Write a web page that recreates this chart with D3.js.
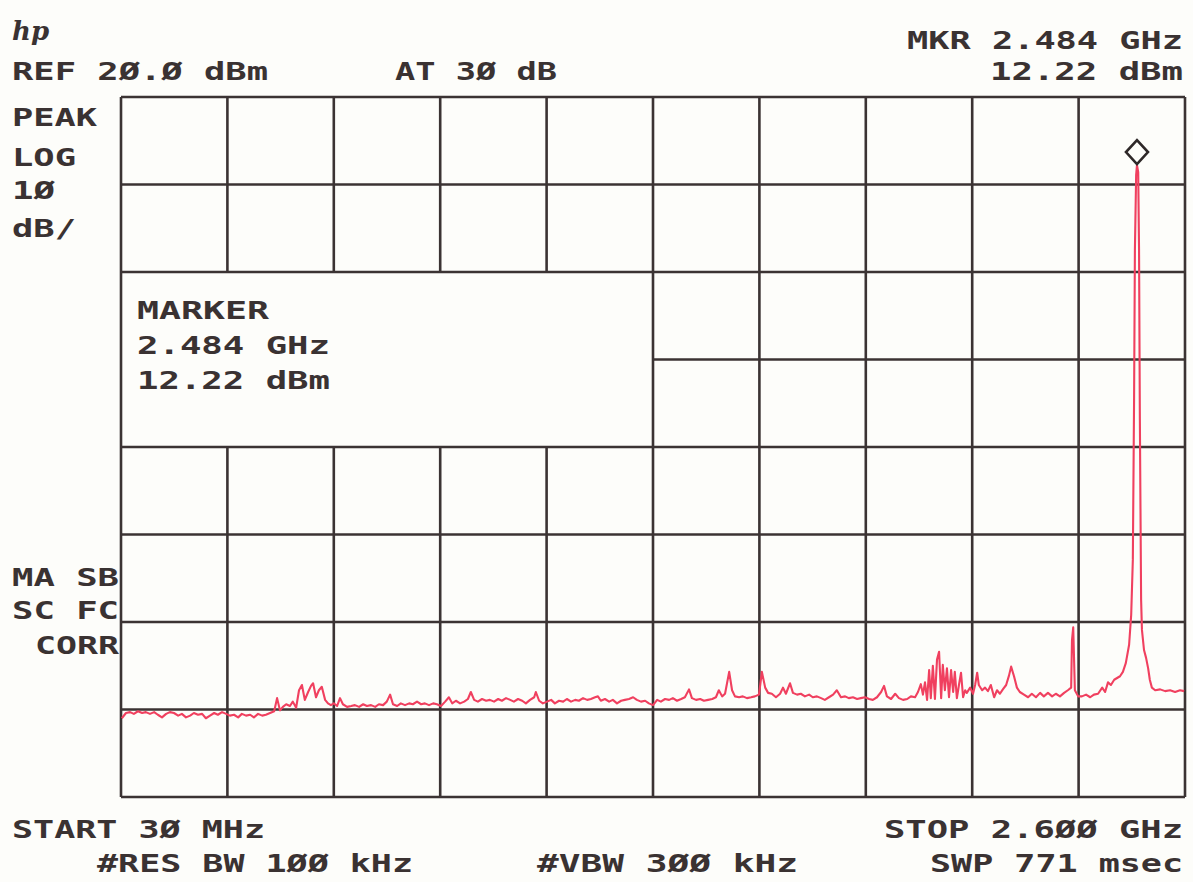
<!DOCTYPE html>
<html>
<head>
<meta charset="utf-8">
<script src="https://cdn.jsdelivr.net/npm/d3@7/dist/d3.min.js"></script>
<style>
  html, body { margin: 0; padding: 0; background: #fdfdfa; }
  svg { display: block; }
  .lbl { font-family: "DejaVu Sans Mono", monospace; font-weight: bold; font-size: 24px; fill: #3a3232; }
</style>
</head>
<body>
<svg id="chart" width="1193" height="882"></svg>
<script>
// ---- Data ----
const startMHz = 30, stopMHz = 2600;
const refDbm = 20, dbPerDiv = 10, nDivY = 8, nDivX = 10;
const markerMHz = 2484, markerDbm = 12.22;

const freqMHz = [32,42,52,61,71,81,90,100,110,119,129,139,148,158,168,177,187,197,206,216,226,235,245,255,264,274,284,293,303,313,322,332,342,351,361,371,380,390,400,407,414,421,429,438,445,453,460,467,474,482,489,494,501,508,515,523,530,537,544,552,559,566,576,586,595,605,615,624,634,644,653,663,672,680,687,697,706,716,726,735,745,755,764,774,784,793,803,813,822,830,839,849,859,868,875,883,892,902,912,921,931,941,950,960,970,979,989,999,1008,1018,1028,1032,1040,1049,1059,1069,1078,1088,1098,1107,1117,1127,1136,1146,1156,1165,1175,1182,1189,1199,1209,1218,1228,1238,1247,1257,1267,1276,1286,1296,1305,1315,1325,1334,1344,1354,1363,1373,1383,1392,1402,1409,1419,1429,1438,1448,1458,1467,1474,1482,1489,1499,1506,1513,1523,1532,1542,1552,1561,1571,1578,1586,1593,1602,1612,1622,1629,1636,1646,1653,1663,1672,1682,1692,1701,1711,1721,1730,1740,1750,1759,1769,1779,1788,1798,1808,1817,1827,1837,1846,1856,1866,1873,1880,1890,1900,1909,1919,1929,1938,1948,1955,1962,1967,1972,1977,1982,1986,1991,1996,2001,2006,2011,2015,2020,2025,2030,2035,2040,2044,2049,2054,2059,2064,2069,2073,2081,2088,2093,2098,2102,2110,2117,2124,2131,2139,2146,2153,2160,2168,2175,2180,2187,2194,2201,2211,2221,2230,2240,2250,2259,2269,2279,2288,2298,2308,2317,2325,2327,2330,2334,2342,2351,2361,2371,2380,2390,2400,2407,2414,2421,2429,2436,2443,2450,2457,2465,2470,2474,2477,2479,2482,2484,2487,2489,2491,2494,2496,2501,2506,2511,2515,2520,2528,2540,2552,2564,2576,2588,2598];

const levelDbm = [-51.0,-50.4,-50.3,-50.5,-50.2,-50.4,-50.3,-50.5,-50.3,-50.6,-50.9,-50.5,-50.3,-50.4,-50.7,-50.5,-50.9,-50.7,-50.4,-50.6,-50.5,-51.0,-50.7,-50.4,-50.6,-50.3,-50.5,-50.7,-50.6,-50.9,-50.5,-50.7,-50.6,-50.9,-50.5,-50.7,-50.6,-50.4,-50.2,-48.7,-50.1,-49.7,-49.4,-49.6,-49.1,-49.8,-47.8,-47.2,-48.9,-48.0,-47.3,-47.0,-48.6,-47.8,-47.4,-48.9,-49.3,-49.5,-49.3,-49.6,-48.7,-49.4,-49.7,-49.6,-49.5,-49.7,-49.4,-49.6,-49.5,-49.7,-49.4,-49.5,-49.1,-48.3,-49.4,-49.6,-49.3,-49.5,-49.3,-49.4,-49.1,-49.4,-49.3,-49.5,-49.3,-49.4,-49.6,-49.1,-48.6,-49.3,-49.0,-49.3,-49.1,-48.8,-48.0,-48.9,-49.1,-48.8,-49.0,-48.9,-49.1,-48.8,-49.0,-48.7,-48.9,-49.1,-48.8,-49.0,-49.3,-48.9,-48.6,-48.0,-49.0,-49.3,-49.1,-48.9,-49.3,-49.0,-49.1,-48.8,-49.1,-48.9,-49.0,-48.7,-48.9,-48.8,-48.6,-48.5,-49.0,-48.8,-49.1,-48.9,-49.3,-49.0,-48.9,-48.8,-48.6,-48.9,-49.1,-49.0,-49.3,-49.5,-48.9,-49.1,-48.8,-48.9,-48.7,-49.0,-48.8,-48.6,-47.7,-48.7,-48.9,-48.8,-49.0,-48.9,-48.8,-48.6,-47.8,-48.5,-48.2,-45.7,-47.8,-48.5,-48.6,-48.5,-48.7,-48.6,-48.5,-48.3,-45.7,-47.5,-48.1,-48.2,-48.6,-48.2,-47.5,-48.2,-47.0,-48.1,-48.3,-48.2,-48.5,-48.3,-48.6,-48.5,-48.7,-48.9,-48.6,-48.3,-47.8,-48.6,-48.5,-48.7,-48.6,-48.8,-48.7,-48.6,-48.8,-48.9,-48.6,-48.0,-47.3,-48.5,-48.8,-48.2,-48.7,-48.9,-48.8,-48.5,-48.6,-48.0,-47.1,-48.3,-46.9,-48.9,-45.5,-48.7,-45.0,-48.8,-44.3,-43.4,-48.7,-44.9,-47.8,-45.3,-48.6,-45.5,-48.0,-45.7,-48.7,-47.2,-45.8,-48.6,-47.8,-48.1,-47.5,-48.2,-47.2,-45.8,-47.2,-47.8,-47.5,-47.9,-47.2,-48.6,-47.8,-48.2,-47.7,-47.2,-46.1,-45.1,-46.2,-47.5,-48.0,-48.3,-48.6,-48.2,-48.6,-48.1,-48.5,-48.1,-48.5,-48.2,-48.5,-48.1,-47.8,-47.5,-42.1,-40.6,-47.8,-48.5,-48.5,-48.3,-48.6,-48.3,-48.2,-47.5,-48.0,-46.9,-47.2,-46.6,-46.4,-46.2,-45.7,-44.7,-42.6,-39.2,-32.9,-14.6,2.5,11.1,12.22,11.4,2.5,-16.9,-37.5,-40.9,-43.2,-44.1,-45.3,-46.6,-47.5,-47.8,-47.7,-47.9,-47.8,-48.0,-47.8,-47.9];

const headerLabels = ["REF 2Ø.Ø dBm", "AT 3Ø dB", "MKR 2.484 GHz", "12.22 dBm"];
const sideLabels = ["PEAK", "LOG", "1Ø", "dB/", "MA SB", "SC FC", "CORR"];
const markerLabels = ["MARKER", "2.484 GHz", "12.22 dBm"];
const footerLabels = ["START 3Ø MHz", "#RES BW 1ØØ kHz", "#VBW 3ØØ kHz", "STOP 2.6ØØ GHz", "SWP 771 msec"];

// ---- Layout ----
const svg = d3.select("#chart");
const L = 121, R = 1185, T = 97, B = 797;
const bottomDbm = refDbm - dbPerDiv * nDivY;

const x = d3.scaleLinear().domain([startMHz, stopMHz]).range([L, R]);
const y = d3.scaleLinear().domain([bottomDbm, refDbm]).range([B, T]);

const gridColor = "#3b3333";
const g = svg.append("g");

const xTicks = d3.range(0, nDivX + 1).map(i => startMHz + i * (stopMHz - startMHz) / nDivX);
const yTicks = d3.range(0, nDivY + 1).map(i => bottomDbm + i * dbPerDiv);

// marker annotation box (blank area inside the graticule)
const boxRight = xTicks[5], boxTop = 0, boxBottom = -20, boxMid = -10;

// vertical grid lines
xTicks.forEach((f, i) => {
  const segs = (i >= 1 && i <= 4) ? [[refDbm, boxTop], [boxBottom, bottomDbm]] : [[refDbm, bottomDbm]];
  segs.forEach(s => {
    g.append("line")
      .attr("x1", x(f)).attr("x2", x(f))
      .attr("y1", y(s[0])).attr("y2", y(s[1]))
      .attr("stroke", gridColor).attr("stroke-width", 2.6);
  });
});
// horizontal grid lines
yTicks.forEach(v => {
  const f0 = (v === boxMid) ? boxRight : startMHz;
  g.append("line")
    .attr("x1", x(f0)).attr("x2", x(stopMHz))
    .attr("y1", y(v)).attr("y2", y(v))
    .attr("stroke", gridColor).attr("stroke-width", 2.6);
});

// trace
const data = freqMHz.map((f, i) => ({ f, v: levelDbm[i] }));
svg.append("path")
  .datum(data)
  .attr("fill", "none")
  .attr("stroke", "#f0405f")
  .attr("stroke-width", 2.1)
  .attr("stroke-linejoin", "round")
  .attr("d", d3.line().x(d => x(d.f)).y(d => y(d.v)));

// marker diamond
const mx = x(markerMHz), my = y(markerDbm) - 13;
svg.append("path")
  .attr("d", `M${mx},${my - 12} L${mx + 11},${my} L${mx},${my + 12} L${mx - 11},${my} Z`)
  .attr("fill", "#fdfdfa").attr("stroke", "#2e2828").attr("stroke-width", 2.6);

// ---- Text ----
function label(t, xx, yy, w) {
  svg.append("text").attr("class", "lbl")
    .attr("x", xx).attr("y", yy)
    .attr("textLength", w).attr("lengthAdjust", "spacingAndGlyphs")
    .text(t);
}
// hp logo
svg.append("text")
  .attr("x", 12).attr("y", 40)
  .attr("font-family", "DejaVu Serif").attr("font-style", "italic").attr("font-weight", "bold")
  .attr("font-size", 26).attr("fill", "#3a3232")
  .text("hp");

label(headerLabels[0], 12, 80, 256);
label(headerLabels[1], 395, 80, 162);
label(headerLabels[2], 907, 49, 276);
label(headerLabels[3], 990, 80, 193);

label(sideLabels[0], 12, 126, 85);
label(sideLabels[1], 12, 166, 64);
label(sideLabels[2], 12, 199, 43);
label(sideLabels[3], 12, 237, 64);
label(sideLabels[4], 12, 586, 107);
label(sideLabels[5], 12, 619, 107);
label(sideLabels[6], 35, 654, 84);

label(markerLabels[0], 137, 319, 132);
label(markerLabels[1], 137, 354, 193);
label(markerLabels[2], 137, 389, 193);

label(footerLabels[0], 12, 838, 253);
label(footerLabels[1], 97, 872, 316);
label(footerLabels[2], 537, 872, 261);
label(footerLabels[3], 884, 838, 299);
label(footerLabels[4], 930, 872, 253);
</script>
</body>
</html>
